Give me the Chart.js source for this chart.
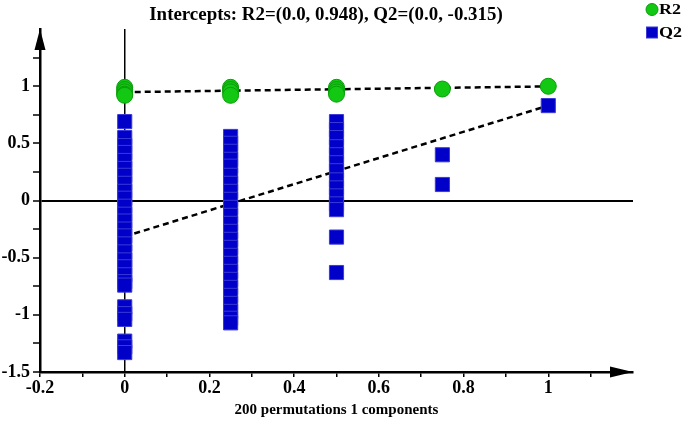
<!DOCTYPE html>
<html>
<head>
<meta charset="utf-8">
<script src="https://cdn.jsdelivr.net/npm/chart.js@4/dist/chart.umd.min.js"></script>
<style>
  html, body { margin: 0; padding: 0; background: #fff; }
  #wrap { width: 685px; height: 421px; position: relative; }
</style>
</head>
<body>
<div id="wrap"><canvas id="c" width="685" height="421"></canvas></div>
<script>
// ---- data ----
const titleText = 'Intercepts: R2=(0.0, 0.948), Q2=(0.0, -0.315)';
const xAxisTitle = '200 permutations 1 components';
const seriesNames = ['R2', 'Q2'];

// R2 values per permutation-correlation column
const r2At0 = [0.99, 0.97, 0.95, 0.93, 0.92];
const r2At025 = [0.99, 0.97, 0.95, 0.92];
const r2At05 = [0.99, 0.97, 0.95, 0.93];
const r2At075 = [0.975];
const r2At1 = [0.999];

// Q2 values per column
const q2At0 = [0.69, 0.55, 0.48, 0.42, 0.35, 0.28, 0.22, 0.15, 0.08, 0.02, -0.05, -0.12, -0.18,
  -0.25, -0.31, -0.38, -0.45, -0.52, -0.58, -0.65, -0.71, -0.74, -0.93, -0.99, -1.04, -1.23, -1.28, -1.33];
const q2At025 = [0.56, 0.50, 0.43, 0.36, 0.30, 0.22, 0.15, 0.08, 0.01, -0.06, -0.13, -0.20, -0.27,
  -0.34, -0.41, -0.48, -0.55, -0.62, -0.69, -0.76, -0.83, -0.90, -0.97, -1.03, -1.07];
const q2At05 = [0.69, 0.62, 0.55, 0.47, 0.40, 0.33, 0.26, 0.18, 0.11, 0.04, -0.03, -0.08, -0.32, -0.63];
const q2At075 = [0.40, 0.14];
const q2At1 = [0.83];

const columnX = [0, 0.25, 0.5, 0.75, 1];

// regression (intercept) lines: [x0, y0], [x1, y1]
const r2LineX = [0, 1];
const r2LineY = [0.948, 0.998];
const q2LineX = [0, 1];
const q2LineY = [-0.315, 0.83];

// axis ranges
const xMin = -0.2, xMax = 1.2, xStep = 0.1;
const yMin = -1.5, yMax = 1.5, yStep = 0.25;

// ---- build points ----
function pts(cols) {
  const out = [];
  cols.forEach((vals, i) => vals.forEach(v => out.push({ x: columnX[i], y: v })));
  return out;
}
const r2Points = pts([r2At0, r2At025, r2At05, r2At075, r2At1]);
const q2Points = pts([q2At0, q2At025, q2At05, q2At075, q2At1]);
const r2Line = r2LineX.map((x, i) => ({ x, y: r2LineY[i] }));
const q2Line = q2LineX.map((x, i) => ({ x, y: q2LineY[i] }));

const FONT = '"Liberation Serif", "Times New Roman", serif';
const GREEN = '#12c812';
const GREEN_EDGE = '#0a9c0a';
const BLUE = '#0000c8';
const BLUE_EDGE = '#3a3ad8';

function stretchedText(ctx, text, x, y, sx) {
  ctx.save();
  ctx.translate(x, y);
  ctx.scale(sx, 1);
  ctx.fillText(text, 0, 0);
  ctx.restore();
}

const decorPlugin = {
  id: 'decor',
  afterDraw(chart) {
    const ctx = chart.ctx;
    const a = chart.chartArea;
    ctx.save();
    ctx.fillStyle = '#000';
    // y-axis arrow
    ctx.beginPath();
    ctx.moveTo(a.left, a.top);
    ctx.lineTo(a.left - 5.5, a.top + 21);
    ctx.lineTo(a.left + 5.5, a.top + 21);
    ctx.closePath();
    ctx.fill();
    // x-axis arrow
    ctx.beginPath();
    ctx.moveTo(a.right, a.bottom);
    ctx.lineTo(a.right - 23, a.bottom - 5.5);
    ctx.lineTo(a.right - 23, a.bottom + 5.5);
    ctx.closePath();
    ctx.fill();
    // title
    ctx.font = 'bold 18px ' + FONT;
    ctx.textAlign = 'center';
    ctx.textBaseline = 'middle';
    stretchedText(ctx, titleText, 326, 15, 1.05);
    // legend
    ctx.textAlign = 'left';
    ctx.beginPath();
    ctx.arc(652, 9.5, 6, 0, Math.PI * 2);
    ctx.fillStyle = GREEN;
    ctx.fill();
    ctx.lineWidth = 1;
    ctx.strokeStyle = GREEN_EDGE;
    ctx.stroke();
    ctx.fillStyle = BLUE;
    ctx.fillRect(646.5, 27, 11, 11);
    ctx.strokeStyle = BLUE_EDGE;
    ctx.strokeRect(646.5, 27, 11, 11);
    ctx.fillStyle = '#000';
    ctx.font = 'bold 15px ' + FONT;
    stretchedText(ctx, seriesNames[0], 659, 10.5, 1.2);
    stretchedText(ctx, seriesNames[1], 659, 33.5, 1.2);
    ctx.restore();
  }
};

new Chart(document.getElementById('c'), {
  type: 'scatter',
  data: {
    datasets: [
      {
        label: seriesNames[0],
        data: r2Points,
        pointStyle: 'circle',
        pointRadius: 8,
        pointHoverRadius: 8,
        backgroundColor: GREEN,
        borderColor: GREEN_EDGE,
        borderWidth: 1
      },
      {
        label: seriesNames[1],
        data: q2Points,
        pointStyle: 'rect',
        pointRadius: 10,
        pointHoverRadius: 10,
        backgroundColor: BLUE,
        borderColor: BLUE_EDGE,
        borderWidth: 1
      },
      {
        type: 'line',
        label: 'R2 intercept',
        data: r2Line,
        borderColor: '#000',
        borderWidth: 2.5,
        borderDash: [6, 4],
        pointRadius: 0,
        fill: false
      },
      {
        type: 'line',
        label: 'Q2 intercept',
        data: q2Line,
        borderColor: '#000',
        borderWidth: 2.5,
        borderDash: [6, 4],
        pointRadius: 0,
        fill: false
      }
    ]
  },
  options: {
    responsive: false,
    animation: false,
    events: [],
    layout: { padding: { left: 0, top: 29, right: 52, bottom: 0 } },
    plugins: {
      legend: { display: false },
      title: { display: false },
      tooltip: { enabled: false }
    },
    scales: {
      x: {
        type: 'linear',
        min: xMin,
        max: xMax,
        afterFit(s) { s.height = 49; },
        afterBuildTicks(s) { s.ticks = s.ticks.filter(t => t.value < xMax - 0.01); },
        ticks: {
          stepSize: xStep,
          includeBounds: false,
          autoSkip: false,
          maxRotation: 0,
          padding: 1,
          color: '#000',
          font: { family: FONT, size: 18, weight: 'bold' },
          callback(v) {
            const k = Math.round(v * 10);
            return k % 2 === 0 ? String(k / 10) : '';
          }
        },
        grid: {
          drawOnChartArea: true,
          color: c => (c.tick && Math.abs(c.tick.value) < 1e-9 ? '#000' : 'rgba(0,0,0,0)'),
          lineWidth: 1.5,
          tickColor: '#000',
          tickWidth: 1.5,
          tickLength: 5
        },
        border: { display: true, color: '#000', width: 2.5 },
        title: {
          display: true,
          text: xAxisTitle,
          color: '#000',
          font: { family: FONT, size: 15, weight: 'bold' },
          padding: { top: 0, bottom: 2 }
        }
      },
      y: {
        type: 'linear',
        min: yMin,
        max: yMax,
        afterFit(s) { s.width = 40; },
        afterBuildTicks(s) { s.ticks = s.ticks.filter(t => t.value < yMax - 0.01); },
        ticks: {
          stepSize: yStep,
          includeBounds: false,
          autoSkip: false,
          padding: 3,
          color: '#000',
          font: { family: FONT, size: 18, weight: 'bold' },
          callback(v) {
            const k = Math.round(v * 100);
            return k % 50 === 0 ? String(k / 100) : '';
          }
        },
        grid: {
          drawOnChartArea: true,
          color: c => (c.tick && Math.abs(c.tick.value) < 1e-9 ? '#000' : 'rgba(0,0,0,0)'),
          lineWidth: 2,
          tickColor: '#000',
          tickWidth: 1.5,
          tickLength: 7
        },
        border: { display: true, color: '#000', width: 2.5 }
      }
    }
  },
  plugins: [decorPlugin]
});
</script>
</body>
</html>
